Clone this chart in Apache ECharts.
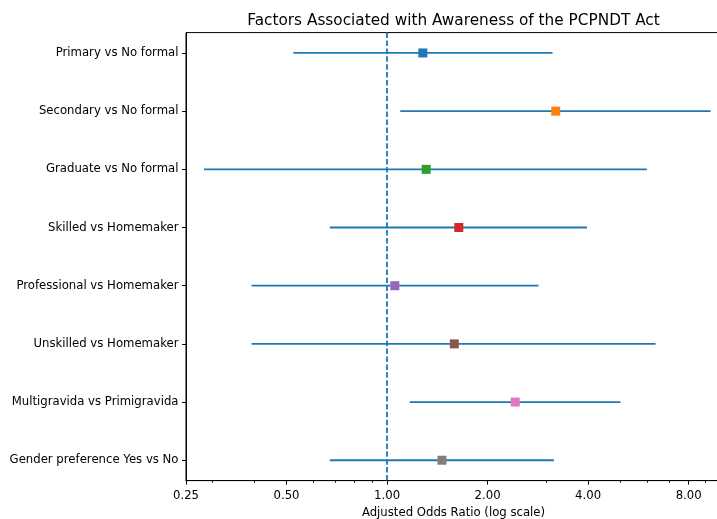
<!DOCTYPE html>
<html>
<head>
<meta charset="utf-8">
<script src="https://cdn.jsdelivr.net/npm/echarts@6/dist/echarts.min.js"></script>
<style>html,body{margin:0;padding:0;background:#fff}#c{width:717px;height:519px}</style>
</head>
<body>
<div id="c"></div>
<script>
var categories = ["Primary vs No formal","Secondary vs No formal","Graduate vs No formal","Skilled vs Homemaker","Professional vs Homemaker","Unskilled vs Homemaker","Multigravida vs Primigravida","Gender preference Yes vs No"];
var oddsRatio = [1.28, 3.20, 1.31, 1.64, 1.055, 1.59, 2.42, 1.46];
var ciLow = [0.524, 1.095, 0.283, 0.674, 0.393, 0.393, 1.17, 0.674];
var ciHigh = [3.13, 9.31, 6.00, 3.97, 2.84, 6.37, 5.00, 3.16];
var markerColors = ["#1f77b4","#ff7f0e","#2ca02c","#d62728","#9467bd","#8c564b","#e377c2","#7f7f7f"];
var majorTicks = [0.25, 0.5, 1, 2, 4, 8];
var minorTicks = [0.3, 0.4, 0.6, 0.7, 0.8, 0.9, 3, 5, 6, 7, 9];
var refValue = 1;

var FONT = "DejaVu Sans";
var rowIdx = categories.map(function(_, i){ return i; });

var chart = echarts.init(document.getElementById('c'), null, {renderer: 'canvas'});
var ciData = categories.map(function(_, i){ return [ciLow[i], ciHigh[i], i]; });
var ptData = categories.map(function(_, i){
  return {value: [oddsRatio[i], i], itemStyle: {color: markerColors[i], opacity: 1}};
});

chart.setOption({
  animation: false,
  backgroundColor: '#fff',
  title: {
    text: 'Factors Associated with Awareness of the PCPNDT Act',
    left: 448.5, top: 9, textAlign: 'center',
    textStyle: {fontFamily: FONT, fontSize: 15.3, fontWeight: 'normal', color: '#000'}
  },
  grid: {left: 186, top: 32.6, width: 535, height: 448, show: true, borderColor: '#000', borderWidth: 1, containLabel: false, outerBoundsMode: 'none'},
  xAxis: [{
    type: 'log', logBase: 2, min: 0.25, max: 10,
    name: 'Adjusted Odds Ratio (log scale)', nameLocation: 'middle', nameGap: 26,
    nameTextStyle: {fontFamily: FONT, fontSize: 11.7, color: '#000'},
    axisLine: {show: true, onZero: false, lineStyle: {color: '#000', width: 1}},
    axisTick: {show: true, length: 4, lineStyle: {color: '#000', width: 1}, customValues: majorTicks},
    axisLabel: {show: true, margin: 9, fontFamily: FONT, fontSize: 11.7, color: '#000', customValues: majorTicks,
      formatter: function(v){ return Number(v).toFixed(2); }},
    splitLine: {show: false}, minorTick: {show: false}
  }, {
    type: 'log', logBase: 2, min: 0.25, max: 10, position: 'bottom',
    axisLine: {show: false, onZero: false},
    axisTick: {show: true, length: 2.3, lineStyle: {color: '#000', width: 0.8}, customValues: minorTicks},
    axisLabel: {show: false},
    splitLine: {show: false}
  }],
  yAxis: {
    type: 'value', min: -0.35, max: 7.35, inverse: true,
    axisLine: {show: true, onZero: false, lineStyle: {color: '#000', width: 1}},
    axisTick: {show: true, length: 4, lineStyle: {color: '#000', width: 1}, customValues: rowIdx},
    axisLabel: {show: true, margin: 7.5, fontFamily: FONT, fontSize: 11.7, color: '#000', customValues: rowIdx,
      formatter: function(v){ return categories[Math.round(v)]; }},
    splitLine: {show: false}
  },
  series: [{
    type: 'custom',
    data: ciData,
    encode: {x: [0, 1], y: 2},
    z: 2,
    renderItem: function(params, api){
      var p1 = api.coord([api.value(0), api.value(2)]);
      var p2 = api.coord([api.value(1), api.value(2)]);
      return {type: 'line', shape: {x1: p1[0], y1: p1[1], x2: p2[0], y2: p2[1]},
        style: {stroke: '#1f77b4', lineWidth: 1.8}};
    }
  }, {
    type: 'scatter',
    data: ptData,
    symbol: 'rect', symbolSize: 9, z: 4,
    itemStyle: {opacity: 1},
    markLine: {
      silent: true, symbol: 'none', label: {show: false},
      lineStyle: {color: '#1f77b4', type: [5.5, 2.4], width: 1.8},
      data: [{xAxis: refValue}]
    }
  }]
});
</script>
</body>
</html>
